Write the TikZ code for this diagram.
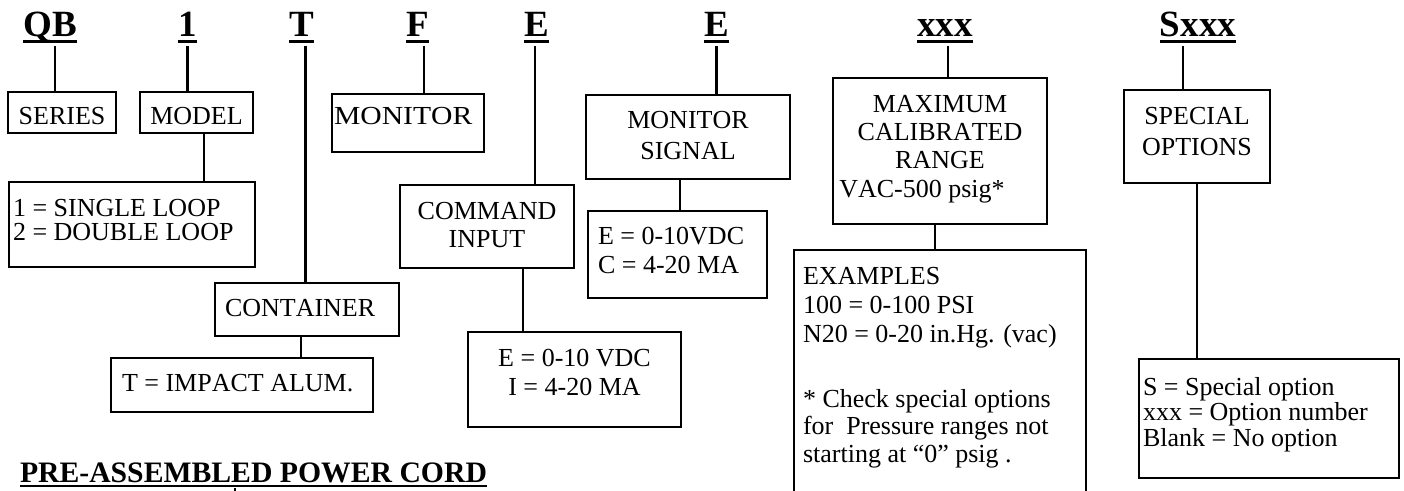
\documentclass[tikz,border=0pt]{standalone}
\usepackage{fontspec}
\setmainfont{Liberation Serif}[Kerning=Off]
\begin{document}
\begin{tikzpicture}[x=1pt,y=-1pt,
  box/.style={draw=black, line width=1.8pt, inner sep=0pt, outer sep=0pt, anchor=north west},
  conn/.style={draw=black, line width=2.8pt},
  hdr/.style={inner sep=0pt, outer sep=0pt, anchor=base, text depth=9pt, font=\fontsize{37}{40}\selectfont\bfseries},
  ul/.style={line width=2.7pt},
  txt/.style={inner sep=0pt, outer sep=0pt, font=\fontsize{26}{28}\selectfont},
]
\useasboundingbox (0,0) rectangle (1404,490);
\clip (0,0) rectangle (1404,490);
\fill[white] (0,0) rectangle (1404,490);

% headers
\node[hdr] (qb) at (50,36.5) {QB};
\node[hdr] (one) at (187.5,36.5) {1};
\node[hdr] (tt) at (301.5,36.5) {T};
\node[hdr] (ff) at (417.5,36.5) {F};
\node[hdr] (eone) at (536.5,36.5) {E};
\node[hdr] (etwo) at (716.5,36.5) {E};
\node[hdr] (xxx) at (945,36.5) {xxx};
\node[hdr] (sxxx) at (1198,36.5) {Sxxx};
\foreach \h in {qb,one,tt,ff,eone,etwo,xxx,sxxx}
  \draw[ul] ([yshift=-5pt]\h.base west) -- ([yshift=-5pt]\h.base east);

% boxes
\node[box, minimum width=108pt, minimum height=41pt] (series) at (8,92) {};
\node[box, minimum width=113pt, minimum height=41pt] (model) at (140,92) {};
\node[box, minimum width=246pt, minimum height=85pt] (loop) at (9,182) {};
\node[box, minimum width=152pt, minimum height=58pt] (monitor) at (332,94) {};
\node[box, minimum width=174pt, minimum height=83pt] (command) at (400,185) {};
\node[box, minimum width=213pt, minimum height=95pt] (cmdval) at (468,332) {};
\node[box, minimum width=184pt, minimum height=53pt] (container) at (215,283) {};
\node[box, minimum width=262pt, minimum height=54pt] (impact) at (111,358) {};
\node[box, minimum width=204pt, minimum height=84pt] (monsig) at (586,95) {};
\node[box, minimum width=179pt, minimum height=87pt] (sigval) at (588,211) {};
\node[box, minimum width=214pt, minimum height=146pt] (maxcal) at (833,78) {};
\node[box, minimum width=292pt, minimum height=260pt] (examples) at (794,250) {};
\node[box, minimum width=146pt, minimum height=93pt] (special) at (1124,90) {};
\node[box, minimum width=260pt, minimum height=119pt] (specval) at (1139,359) {};

% texts
\node[txt, anchor=base] (series-t) at (62,124) {SERIES};
\node[txt, anchor=base] (model-t) at (196.5,124) {MODEL};
\node[txt, anchor=north west, align=left, font=\fontsize{26}{24}\selectfont] (loop-t) at (13,199) {1 = SINGLE LOOP\\2 = DOUBLE LOOP};
\node[txt, anchor=base west] (monitor-t) at (334,124) {\scalebox{1.14}[1]{MONITOR}};
\node[txt, anchor=north, align=center, font=\fontsize{26}{28.5}\selectfont] (command-t) at (487,202) {COMMAND\\INPUT};
\node[txt, anchor=north, align=center, font=\fontsize{26}{29}\selectfont] (cmdval-t) at (574.5,349) {E = 0-10 VDC\\I = 4-20 MA};
\node[txt, anchor=base west] (container-t) at (225,316) {CONTAINER};
\node[txt, anchor=base west] (impact-t) at (122,391) {T = IMPACT ALUM.};
\node[txt, anchor=north, align=center, font=\fontsize{26}{31}\selectfont] (monsig-t) at (688,111) {MONITOR\\SIGNAL};
\node[txt, anchor=north west, align=left, font=\fontsize{26}{29}\selectfont] (sigval-t) at (598,227) {E = 0-10VDC\\C = 4-20 MA};
\node[txt, anchor=north, align=center, font=\fontsize{26}{28.3}\selectfont] (maxcal-t) at (940,95) {MAXIMUM\\CALIBRATED\\RANGE\\VAC-500 psig*\hspace*{36pt}};
\node[txt, anchor=north west, align=left, font=\fontsize{26}{29}\selectfont] (exa-t) at (803,267) {EXAMPLES\\100 = 0-100 PSI\\N20 = 0-20 in.Hg. (vac)};
\node[txt, anchor=north west, align=left, font=\fontsize{26}{27.5}\selectfont] (exb-t) at (803,389) {* Check special options\\for\ \ Pressure ranges not\\starting at ``0'' psig .};
\node[txt, anchor=north, align=center, font=\fontsize{26}{31}\selectfont] (special-t) at (1197,107) {SPECIAL\\OPTIONS};
\node[txt, anchor=north west, align=left, font=\fontsize{26}{25.5}\selectfont] (specval-t) at (1143,377) {S = Special option\\xxx = Option number\\Blank = No option};

% connectors
\draw[conn] ([xshift=5pt]qb.south) -- ([xshift=5pt]qb.south |- series.north);
\draw[conn] (one.south) -- (one.south |- model.north);
\draw[conn] ([xshift=7.5pt]model.south) -- ([xshift=7.5pt]model.south |- loop.north);
\draw[conn] ([xshift=4pt]tt.south) -- ([xshift=4pt]tt.south |- container.north);
\draw[conn] ([xshift=-6pt]container.south) -- ([xshift=-6pt]container.south |- impact.north);
\draw[conn] ([xshift=6.5pt]ff.south) -- ([xshift=6.5pt]ff.south |- monitor.north);
\draw[conn] ([xshift=-1.5pt]eone.south) -- ([xshift=-1.5pt]eone.south |- command.north);
\draw[conn] ([xshift=36pt]command.south) -- ([xshift=36pt]command.south |- cmdval.north);
\draw[conn] (etwo.south) -- (etwo.south |- monsig.north);
\draw[conn] ([xshift=-8pt]monsig.south) -- ([xshift=-8pt]monsig.south |- sigval.north);
\draw[conn] ([xshift=3pt]xxx.south) -- ([xshift=3pt]xxx.south |- maxcal.north);
\draw[conn] ([xshift=-5pt]maxcal.south) -- ([xshift=-5pt]maxcal.south |- examples.north);
\draw[conn] ([xshift=-15pt]sxxx.south) -- ([xshift=-15pt]sxxx.south |- special.north);
\draw[conn] (special.south) -- (special.south |- specval.north);

% bottom title
\node[inner sep=0pt, outer sep=0pt, anchor=base west, text depth=6pt, font=\fontsize{29.7}{32}\selectfont\bfseries] (cord) at (20,482) {PRE-ASSEMBLED POWER CORD};
\draw[ul] ([yshift=-4pt]cord.base west) -- ([yshift=-4pt]cord.base east);
\coordinate (cordend) at (235,495);
\draw[line width=2pt] (cord.south -| cordend) -- (cordend);
\end{tikzpicture}
\end{document}
